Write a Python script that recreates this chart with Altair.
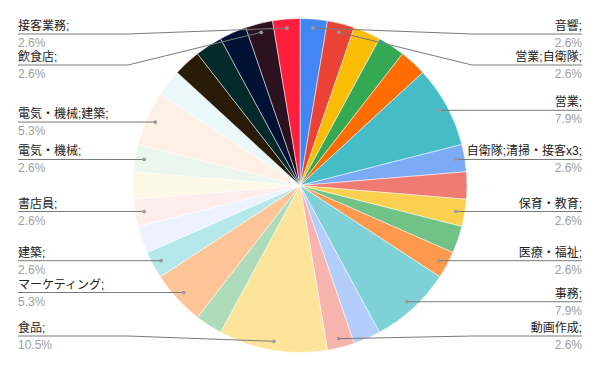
import math
import altair as alt
import pandas as pd

# ---- data (clockwise from 12 o'clock) ----
categories = ["音響;", "営業;自衛隊;", "カテゴリ3;", "カテゴリ4;", "カテゴリ5;", "営業;",
              "自衛隊;清掃・接客x3;", "カテゴリ8;", "保育・教育;", "カテゴリ10;", "医療・福祉;",
              "事務;", "カテゴリ13;", "動画作成;", "食品;", "カテゴリ16;", "マーケティング;",
              "建築;", "カテゴリ19;", "書店員;", "カテゴリ21;", "電気・機械;", "電気・機械;建築;",
              "カテゴリ24;", "カテゴリ25;", "カテゴリ26;", "カテゴリ27;", "飲食店;", "接客業務;"]
counts = [1, 1, 1, 1, 1, 3, 1, 1, 1, 1, 1, 3, 1, 1, 4, 1, 2, 1, 1, 1, 1, 1, 2,
          1, 1, 1, 1, 1, 1]
labelled = ["音響;", "営業;自衛隊;", "営業;", "自衛隊;清掃・接客x3;", "保育・教育;", "医療・福祉;",
            "事務;", "動画作成;", "食品;", "マーケティング;", "建築;", "書店員;", "電気・機械;",
            "電気・機械;建築;", "飲食店;", "接客業務;"]
colors = ["#4285F4", "#EA4335", "#FBBC04", "#34A853", "#FF6D01", "#46BDC6",
          "#7BAAF7", "#F07B72", "#FCD04F", "#71C287", "#FF994D", "#7ED1D7",
          "#B3CEFB", "#F7B4AE", "#FDE49B", "#AEDCBA", "#FFC599", "#B5E8EB",
          "#ECF3FE", "#FDEDEC", "#FEF8E6", "#EBF6EE", "#FFF0E6", "#EBF8F9",
          "#2A1B07", "#03292A", "#001133", "#2C1220", "#FF1F3D"]

# ---- layout constants ----
W, H = 584, 355
CX, CY = W / 2, H / 2
R = 167
DOT_R = 158
Y_MIN, Y_MAX, GAP = 26, 328, 31
EDGE = 10
FONT = "'Liberation Sans', 'Noto Sans CJK JP', sans-serif"

total = sum(counts)
slices = pd.DataFrame({"category": categories, "count": counts,
                       "idx": list(range(len(categories)))})

rows = []
cum = 0
for name, c in zip(categories, counts):
    mid = (cum + c / 2) / total * 2 * math.pi
    cum += c
    if name not in labelled:
        continue
    dx = CX + DOT_R * math.sin(mid)
    dy = CY - DOT_R * math.cos(mid)
    rows.append({"label": name, "pct": f"{c / total * 100:.1f}%",
                 "dx": dx, "dy": dy, "side": "right" if dx > CX else "left"})

lab = pd.DataFrame(rows)
ly = {}
for side in ["right", "left"]:
    sub = lab[lab.side == side].sort_values("dy")
    prev = None
    ys = []
    for _, r in sub.iterrows():
        y = min(max(r.dy, Y_MIN), Y_MAX)
        if prev is not None:
            y = max(y, prev + GAP)
        ys.append(y)
        prev = y
    for i in range(len(ys) - 2, -1, -1):
        if ys[i] > ys[i + 1] - GAP and ys[i + 1] >= Y_MAX:
            ys[i] = ys[i + 1] - GAP
    for (_, r), y in zip(sub.iterrows(), ys):
        ly[r.label] = y
lab["ly"] = lab.label.map(ly)
lab["tx"] = lab.side.map({"right": W - EDGE, "left": EDGE})

line_rows = []
for _, r in lab.iterrows():
    sgn = 1 if r.side == "right" else -1
    line_rows += [
        {"label": r.label, "pt": 0, "x": r.dx, "y": r.dy},
        {"label": r.label, "pt": 1, "x": CX + sgn * (R + 5), "y": r.ly},
        {"label": r.label, "pt": 2, "x": r.tx, "y": r.ly},
    ]
lines = pd.DataFrame(line_rows)

xs = alt.Scale(domain=[0, W], range=[0, W], nice=False, zero=False)
ysc = alt.Scale(domain=[0, H], range=[0, H], nice=False, zero=False)

pie = alt.Chart(slices).mark_arc(outerRadius=R, stroke="white", strokeWidth=0.5).encode(
    theta=alt.Theta("count:Q", stack=True),
    color=alt.Color("category:N", scale=alt.Scale(domain=categories, range=colors), legend=None),
    order=alt.Order("idx:Q"),
)

leader = alt.Chart(lines).mark_line(color="#7a7a7a", strokeWidth=1).encode(
    x=alt.X("x:Q", scale=xs, axis=None),
    y=alt.Y("y:Q", scale=ysc, axis=None),
    detail="label:N",
    order="pt:Q",
)

dots = alt.Chart(lab).mark_circle(size=14, color="#9a9a9a", opacity=1).encode(
    x=alt.X("dx:Q", scale=xs, axis=None),
    y=alt.Y("dy:Q", scale=ysc, axis=None),
)

def texts(side, align):
    base = alt.Chart(lab).transform_filter(alt.datum.side == side)
    name = base.mark_text(align=align, baseline="alphabetic", dy=-4, font=FONT,
                          fontSize=12, color="#222222").encode(
        x=alt.X("tx:Q", scale=xs, axis=None),
        y=alt.Y("ly:Q", scale=ysc, axis=None),
        text="label:N",
    )
    pct = base.mark_text(align=align, baseline="alphabetic", dy=13, font=FONT,
                         fontSize=12, color="#9e9e9e").encode(
        x=alt.X("tx:Q", scale=xs, axis=None),
        y=alt.Y("ly:Q", scale=ysc, axis=None),
        text="pct:N",
    )
    return name + pct

chart = alt.layer(pie, leader, dots, texts("right", "right"), texts("left", "left")).properties(
    width=W, height=H, padding=0,
    autosize=alt.AutoSizeParams(type="fit", contains="padding"),
).configure_view(stroke=None)

chart.save("out.html", embed_options={"renderer": "svg", "actions": False})
